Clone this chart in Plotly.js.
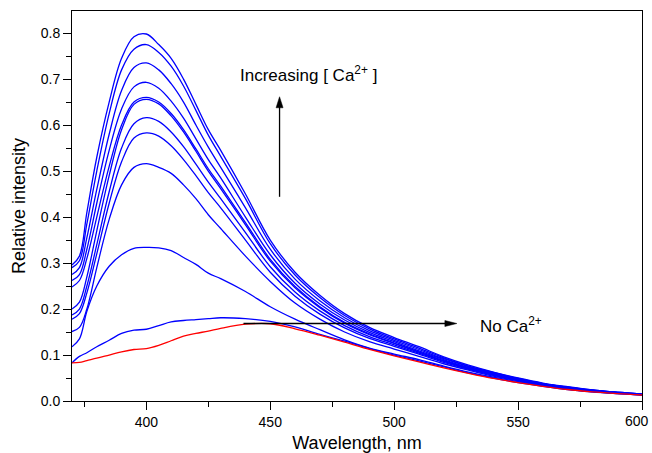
<!DOCTYPE html>
<html>
<head>
<meta charset="utf-8">
<script src="https://cdn.plot.ly/plotly-3.0.1.min.js"></script>
<style>html,body{margin:0;padding:0;background:#fff;}#chart{width:652px;height:453px;}</style>
</head>
<body>
<div id="chart"></div>
<script>
// Wavelength (nm)
const wavelength = [370, 373, 376, 380, 385, 390, 395, 400, 405, 410, 415, 420, 425, 430, 440, 450, 460, 470, 480, 490, 500, 510, 520, 530, 540, 550, 560, 570, 580, 590, 600];

// Spectra with increasing [Ca2+] (blue), highest first
const ca11 = [0.296, 0.315, 0.41, 0.53, 0.65, 0.745, 0.792, 0.798, 0.775, 0.745, 0.70, 0.645, 0.59, 0.545, 0.45, 0.35, 0.28, 0.23, 0.19, 0.16, 0.138, 0.118, 0.096, 0.078, 0.063, 0.050, 0.039, 0.031, 0.024, 0.019, 0.015];
const ca10 = [0.29, 0.305, 0.385, 0.50, 0.625, 0.72, 0.765, 0.775, 0.758, 0.728, 0.685, 0.632, 0.578, 0.532, 0.44, 0.342, 0.274, 0.225, 0.186, 0.157, 0.135, 0.115, 0.094, 0.076, 0.062, 0.049, 0.038, 0.030, 0.024, 0.019, 0.015];
const ca9 = [0.275, 0.29, 0.355, 0.46, 0.58, 0.675, 0.725, 0.735, 0.72, 0.69, 0.65, 0.60, 0.552, 0.508, 0.42, 0.33, 0.265, 0.218, 0.181, 0.153, 0.132, 0.112, 0.092, 0.075, 0.061, 0.048, 0.038, 0.030, 0.023, 0.018, 0.015];
const ca8 = [0.262, 0.275, 0.33, 0.43, 0.545, 0.635, 0.683, 0.693, 0.68, 0.652, 0.615, 0.57, 0.525, 0.485, 0.40, 0.318, 0.256, 0.211, 0.176, 0.149, 0.129, 0.109, 0.090, 0.073, 0.060, 0.047, 0.037, 0.029, 0.023, 0.018, 0.015];
const ca7 = [0.248, 0.262, 0.31, 0.40, 0.51, 0.60, 0.65, 0.66, 0.65, 0.625, 0.59, 0.548, 0.505, 0.467, 0.388, 0.308, 0.249, 0.205, 0.171, 0.146, 0.126, 0.107, 0.088, 0.072, 0.059, 0.047, 0.037, 0.029, 0.023, 0.018, 0.014];
const ca6 = [0.20, 0.215, 0.27, 0.37, 0.49, 0.59, 0.645, 0.656, 0.646, 0.62, 0.585, 0.543, 0.50, 0.462, 0.383, 0.304, 0.246, 0.203, 0.169, 0.144, 0.125, 0.106, 0.087, 0.071, 0.058, 0.046, 0.036, 0.028, 0.022, 0.018, 0.014];
const ca5 = [0.187, 0.20, 0.25, 0.34, 0.455, 0.55, 0.603, 0.616, 0.608, 0.585, 0.553, 0.515, 0.476, 0.44, 0.366, 0.292, 0.237, 0.196, 0.164, 0.140, 0.122, 0.104, 0.086, 0.070, 0.057, 0.046, 0.036, 0.028, 0.022, 0.018, 0.014];
const ca4 = [0.178, 0.19, 0.235, 0.32, 0.43, 0.52, 0.572, 0.583, 0.576, 0.555, 0.525, 0.49, 0.453, 0.42, 0.35, 0.28, 0.228, 0.189, 0.159, 0.136, 0.119, 0.102, 0.084, 0.069, 0.056, 0.045, 0.035, 0.028, 0.022, 0.017, 0.014];
const ca3 = [0.151, 0.16, 0.20, 0.29, 0.395, 0.47, 0.508, 0.516, 0.508, 0.495, 0.47, 0.44, 0.405, 0.375, 0.315, 0.26, 0.213, 0.178, 0.150, 0.129, 0.113, 0.097, 0.081, 0.067, 0.054, 0.044, 0.034, 0.027, 0.021, 0.017, 0.014];
const ca2 = [0.118, 0.135, 0.195, 0.25, 0.293, 0.318, 0.332, 0.334, 0.333, 0.327, 0.312, 0.297, 0.278, 0.266, 0.238, 0.205, 0.178, 0.155, 0.133, 0.115, 0.102, 0.090, 0.076, 0.063, 0.052, 0.042, 0.033, 0.026, 0.020, 0.016, 0.013];
const ca1 = [0.083, 0.097, 0.105, 0.118, 0.132, 0.147, 0.154, 0.156, 0.164, 0.172, 0.175, 0.177, 0.179, 0.181, 0.179, 0.173, 0.161, 0.145, 0.130, 0.114, 0.100, 0.087, 0.074, 0.061, 0.050, 0.040, 0.032, 0.025, 0.020, 0.016, 0.013];
// No Ca2+ (red)
const noCa = [0.083, 0.084, 0.088, 0.093, 0.100, 0.107, 0.112, 0.114, 0.121, 0.131, 0.141, 0.147, 0.152, 0.158, 0.167, 0.168, 0.157, 0.143, 0.128, 0.112, 0.098, 0.085, 0.072, 0.060, 0.049, 0.040, 0.032, 0.025, 0.020, 0.016, 0.013];

const blueSeries = [ca11, ca10, ca9, ca8, ca7, ca6, ca5, ca4, ca3, ca2, ca1];

// Tick labels
const xTicks = [400, 450, 500, 550, 600];
const yTicks = [0.0, 0.1, 0.2, 0.3, 0.4, 0.5, 0.6, 0.7, 0.8];

const traces = blueSeries.map((ys, i) => ({
  x: wavelength, y: ys, type: 'scatter', mode: 'lines',
  line: {color: '#0000ff', width: 1.3, shape: 'spline', smoothing: 1},
  name: 'Ca ' + (11 - i), hoverinfo: 'x+y'
}));
traces.push({
  x: wavelength, y: noCa, type: 'scatter', mode: 'lines',
  line: {color: '#ff0000', width: 1.3, shape: 'spline', smoothing: 1},
  name: 'No Ca2+'
});

const font = 'Liberation Sans, Arial, Helvetica, sans-serif';
const lastXTick = xTicks[xTicks.length - 1];
// the last label is drawn as an annotation so it stays inside the picture
const xTickText = xTicks.map((v, i) => i === xTicks.length - 1 ? ' ' : String(v));

const layout = {
  width: 652, height: 453,
  margin: {l: 72, r: 10, t: 11, b: 52, pad: 0},
  paper_bgcolor: '#ffffff', plot_bgcolor: '#ffffff',
  showlegend: false,
  font: {family: font, color: '#000', size: 14},
  xaxis: {
    range: [370, 600], tickmode: 'array', tickvals: xTicks, ticktext: xTickText,
    ticklabeloverflow: 'allow',
    ticks: 'outside', ticklen: 8, tickwidth: 1, tickcolor: '#000',
    minor: {tickmode: 'array', tickvals: [375, 425, 475, 525, 575], ticks: 'outside', ticklen: 5, tickwidth: 1, tickcolor: '#000', showgrid: false},
    showline: true, linecolor: '#000', linewidth: 1, mirror: true,
    showgrid: false, zeroline: false,
    tickfont: {family: font, size: 14, color: '#000'},
    title: {text: 'Wavelength, nm', font: {family: font, size: 18, color: '#000'}, standoff: 8}
  },
  yaxis: {
    range: [0, 0.848], tickmode: 'array', tickvals: yTicks, ticktext: yTicks.map(v => v.toFixed(1)),
    ticks: 'outside', ticklen: 8, tickwidth: 1, tickcolor: '#000',
    minor: {dtick: 0.05, ticks: 'outside', ticklen: 5, tickwidth: 1, tickcolor: '#000', showgrid: false},
    showline: true, linecolor: '#000', linewidth: 1, mirror: true,
    showgrid: false, zeroline: false,
    tickfont: {family: font, size: 14, color: '#000'},
    title: {text: 'Relative intensity', font: {family: font, size: 18, color: '#000'}, standoff: 10}
  },
  shapes: [
    // "Increasing" arrow shaft and head
    {type: 'line', xref: 'x', yref: 'y', x0: 453.75, x1: 453.75, y0: 0.444, y1: 0.645, line: {color: '#000', width: 1.3}},
    {type: 'path', xref: 'x', yref: 'y', xsizemode: 'pixel', ysizemode: 'pixel', xanchor: 453.75, yanchor: 0.6615,
     path: 'M0,0 L-3.5,-11 L3.5,-11 Z', fillcolor: '#000', line: {color: '#000', width: 0.5}},
    // "No Ca" arrow shaft and head
    {type: 'line', xref: 'x', yref: 'y', x0: 439.2, x1: 521, y0: 0.1685, y1: 0.1685, line: {color: '#000', width: 1.3}},
    {type: 'path', xref: 'x', yref: 'y', xsizemode: 'pixel', ysizemode: 'pixel', xanchor: 525.3, yanchor: 0.1685,
     path: 'M0,0 L-12,3 L-12,-3 Z', fillcolor: '#000', line: {color: '#000', width: 0.5}}
  ],
  annotations: [
    {x: 437.1, y: 0.71, xref: 'x', yref: 'y', xanchor: 'left', yanchor: 'middle', showarrow: false,
     text: 'Increasing [ Ca<sup>2+</sup> ]', font: {family: font, size: 17, color: '#000'}},
    {x: 533.9, y: 0.165, xref: 'x', yref: 'y', xanchor: 'left', yanchor: 'middle', showarrow: false,
     text: 'No Ca<sup>2+</sup>', font: {family: font, size: 17, color: '#000'}},
    {x: lastXTick, y: 0, xref: 'x', yref: 'y', xanchor: 'right', yanchor: 'middle', xshift: 8, yshift: -20,
     showarrow: false, borderpad: 0, text: String(lastXTick), font: {family: font, size: 14, color: '#000'}}
  ]
};

Plotly.newPlot('chart', traces, layout, {displayModeBar: false, staticPlot: true});
</script>
</body>
</html>
